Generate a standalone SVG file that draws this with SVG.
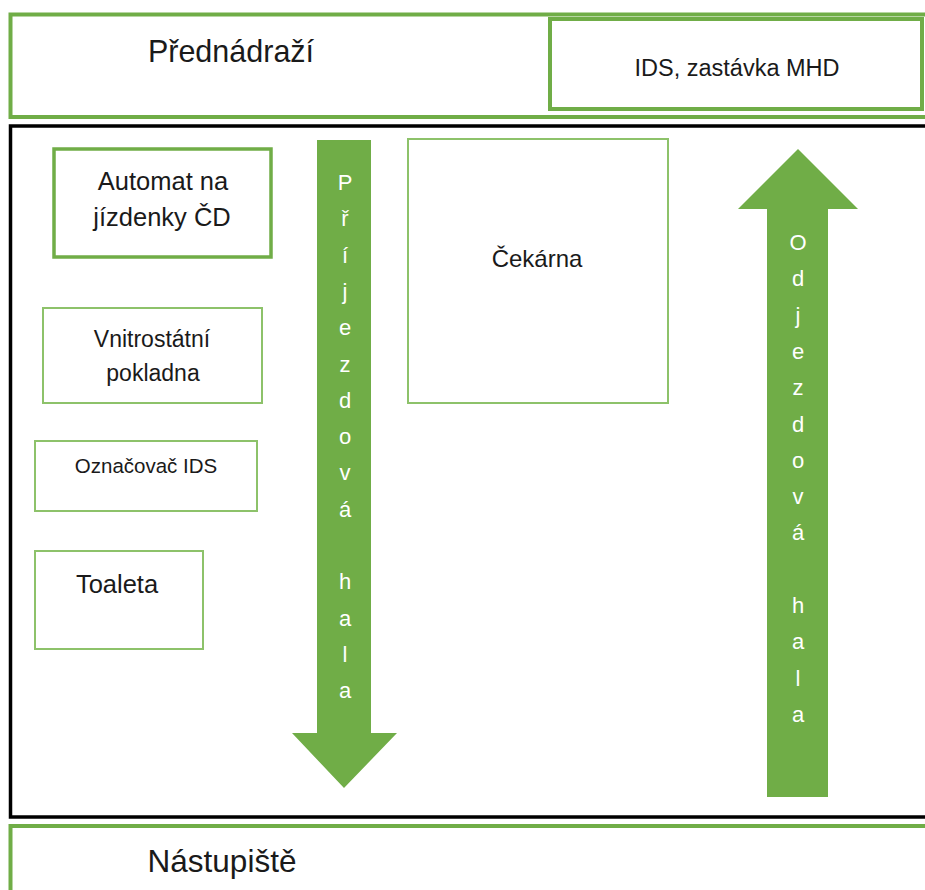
<svg xmlns="http://www.w3.org/2000/svg" width="925" height="890" viewBox="0 0 925 890">
  <style>
    .zone { fill: #ffffff; stroke: #70AD47; stroke-width: 4; }
    .hall { fill: #ffffff; stroke: #000000; stroke-width: 3.5; }
    .thick { fill: #ffffff; stroke: #70AD47; stroke-width: 3.5; }
    .thin { fill: #ffffff; stroke: #8DC26A; stroke-width: 2; }
    .lbl { font-family: "Liberation Sans", Arial, sans-serif; fill: #1a1a1a; text-anchor: middle; }
    .arrow { fill: #70AD47; }
    .vt { font-family: "Liberation Sans", Arial, sans-serif; fill: #ffffff; text-anchor: middle; font-size: 22px; }
  </style>

  <rect width="925" height="890" fill="#ffffff"/>

  <!-- forecourt strip -->
  <g id="prednadrazi">
    <rect class="zone" x="10.5" y="14.5" width="930" height="102.5"/>
    <text class="lbl" x="231" y="62" font-size="30.5">Přednádraží</text>
  </g>
  <g id="ids-mhd">
    <rect class="zone" x="550" y="19" width="372" height="90"/>
    <text class="lbl" x="737" y="76" font-size="23.5">IDS, zastávka MHD</text>
  </g>

  <!-- main hall -->
  <g id="hala">
    <rect class="hall" x="10.5" y="126" width="930" height="691"/>
  </g>

  <!-- platform strip -->
  <g id="nastupiste">
    <rect class="zone" x="10.5" y="826" width="930" height="80"/>
    <text class="lbl" x="222" y="872" font-size="31.5">Nástupiště</text>
  </g>

  <g id="automat">
    <rect class="thick" x="54" y="149" width="217" height="108"/>
    <text class="lbl" x="163" y="190" font-size="25.5">Automat na</text>
    <text class="lbl" x="162" y="226" font-size="25.5">jízdenky ČD</text>
  </g>

  <g id="pokladna">
    <rect class="thin" x="43" y="308" width="219" height="95"/>
    <text class="lbl" x="152" y="347" font-size="23">Vnitrostátní</text>
    <text class="lbl" x="153" y="381" font-size="23">pokladna</text>
  </g>

  <g id="oznacovac">
    <rect class="thin" x="35" y="441" width="222" height="70"/>
    <text class="lbl" x="146" y="473" font-size="20.5">Označovač IDS</text>
  </g>

  <g id="toaleta">
    <rect class="thin" x="35" y="551" width="168" height="98"/>
    <text class="lbl" x="117" y="593" font-size="25.5">Toaleta</text>
  </g>

  <g id="cekarna">
    <rect class="thin" x="408" y="139" width="260" height="264"/>
    <text class="lbl" x="537" y="267" font-size="24">Čekárna</text>
  </g>

  <!-- direction-of-flow block arrows -->
  <g id="hall-arrows">
    <g id="prijezdova-hala">
      <polygon class="arrow" points="317,140 371,140 371,733 397,733 344,788 292,733 317,733"/>
      <g class="vt">
        <text x="345" y="190">P</text>
        <text x="345" y="226">ř</text>
        <text x="345" y="263">í</text>
        <text x="345" y="299">j</text>
        <text x="345" y="335">e</text>
        <text x="345" y="372">z</text>
        <text x="345" y="408">d</text>
        <text x="345" y="444">o</text>
        <text x="345" y="480">v</text>
        <text x="345" y="517">á</text>
        <text x="345" y="589">h</text>
        <text x="345" y="626">a</text>
        <text x="345" y="662">l</text>
        <text x="345" y="698">a</text>
      </g>
    </g>
    <g id="odjezdova-hala">
      <polygon class="arrow" points="798,149 858,209 828,209 828,797 767,797 767,209 738,209"/>
      <g class="vt">
        <text x="798" y="250">O</text>
        <text x="798" y="286">d</text>
        <text x="798" y="323">j</text>
        <text x="798" y="359">e</text>
        <text x="798" y="395">z</text>
        <text x="798" y="432">d</text>
        <text x="798" y="468">o</text>
        <text x="798" y="504">v</text>
        <text x="798" y="540">á</text>
        <text x="798" y="613">h</text>
        <text x="798" y="649">a</text>
        <text x="798" y="686">l</text>
        <text x="798" y="722">a</text>
      </g>
    </g>
  </g>
</svg>
